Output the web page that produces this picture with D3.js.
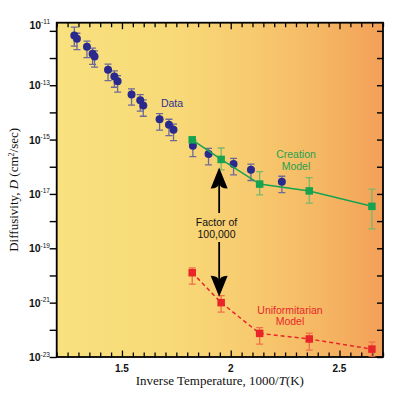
<!DOCTYPE html>
<html><head><meta charset="utf-8">
<script src="https://cdn.jsdelivr.net/npm/d3@7"></script>
<style>body{margin:0;background:#fff} svg{display:block}</style>
</head><body>
<script>
// ---- data ----
const dataX = [1.281,1.293,1.339,1.365,1.374,1.436,1.465,1.480,1.544,1.584,1.598,1.673,1.716,1.737,1.826,1.898,2.013,2.093,2.235];
const dataD = [6.8e-12,5.1e-12,2.6e-12,1.45e-12,1.15e-12,3.7e-13,2.1e-13,1.4e-13,4.6e-14,2.8e-14,1.8e-14,5.6e-15,3.5e-15,2.3e-15,5.9e-16,2.95e-16,1.26e-16,7.8e-17,2.8e-17];
const dataHiFactor = [2.0,1.6,1.6,1.6,1.6,1.6,1.6,1.6,1.6,1.6,1.6,1.6,1.6,1.6,1.6,1.6,1.6,1.6,1.6];
const dataLoFactor = [0.4,0.4,0.4,0.4,0.4,0.4,0.4,0.4,0.4,0.4,0.4,0.4,0.4,0.4,0.4,0.4,0.4,0.4,0.4];

const creationX = [1.823,1.956,2.133,2.361,2.649];
const creationD = [9.8e-16,1.86e-16,2.3e-17,1.29e-17,3.5e-18];
const creationHi = [null,4.9e-16,6.6e-17,4.0e-17,1.5e-17];
const creationLo = [null,7.7e-17,9.2e-18,4.6e-18,5.2e-19];

const uniformX = [1.823,1.956,2.133,2.361,2.649];
const uniformD = [1.26e-20,1.0e-21,7.4e-23,4.6e-23,1.95e-23];
const uniformHi = [1.9e-20,1.8e-21,1.2e-22,7.5e-23,3.5e-23];
const uniformLo = [4.8e-21,4.5e-22,3.0e-23,1.8e-23,1.0e-23];

const xMajorTicks = [1.5,2,2.5];
const xTickLabels = ["1.5","2","2.5"];
const yExponents = [-11,-12,-13,-14,-15,-16,-17,-18,-19,-20,-21,-22,-23];
const yLabelExponents = [-11,-13,-15,-17,-19,-21,-23];

// ---- layout ----
const W = 400, H = 395;
const L = 56.7, R = 383, T = 22.7, B = 357;
const svg = d3.select("body").append("svg").attr("width", W).attr("height", H);

const x = d3.scaleLinear().domain([1.2, 2.7]).range([L, R]);
const y = d3.scaleLog().domain([1e-23, Math.pow(10, -10.7)]).range([B, T]);

const defs = svg.append("defs");
const grad = defs.append("linearGradient").attr("id", "bg").attr("x1", 0).attr("x2", 1).attr("y1", 0).attr("y2", 0);
[[0, "#f8e17e"], [0.35, "#f8da78"], [0.6, "#f7ca6f"], [0.8, "#f5b864"], [1, "#f3a058"]].forEach(s =>
  grad.append("stop").attr("offset", s[0]).attr("stop-color", s[1]));
defs.append("clipPath").attr("id", "clip").append("rect").attr("x", L).attr("y", T).attr("width", R - L).attr("height", B - T);

svg.append("rect").attr("x", L).attr("y", T).attr("width", R - L).attr("height", B - T).attr("fill", "url(#bg)");

// ---- axes ----
const xMinor = d3.range(1.2, 2.7001, 0.05);
const isMajor = v => xMajorTicks.some(m => Math.abs(m - v) < 1e-6);
const gB = svg.append("g").attr("transform", `translate(0,${B})`).call(d3.axisBottom(x).tickValues(xMinor).tickSize(-4.5).tickFormat(""));
const gT = svg.append("g").attr("transform", `translate(0,${T})`).call(d3.axisTop(x).tickValues(xMinor).tickSize(-4.5).tickFormat(""));
[gB, gT].forEach(g => {
  g.select(".domain").remove();
  g.selectAll(".tick line").attr("stroke", "#000").attr("stroke-width", 1.3)
    .attr("y2", d => (g === gB ? -1 : 1) * (isMajor(d) ? 6.5 : 4.5));
});
svg.append("g").selectAll("text").data(xMajorTicks).join("text")
  .attr("x", d => x(d)).attr("y", B + 15).attr("text-anchor", "middle")
  .attr("font-family", "Liberation Sans, Arial, sans-serif").attr("font-weight", "bold").attr("font-size", 10)
  .attr("fill", "#111").text((d, i) => xTickLabels[i]);

const yTicks = yExponents.map(e => Math.pow(10, e));
const gL = svg.append("g").attr("transform", `translate(${L},0)`).call(d3.axisLeft(y).tickValues(yTicks).tickSize(7).tickFormat(""));
const gR = svg.append("g").attr("transform", `translate(${R},0)`).call(d3.axisRight(y).tickValues(yTicks).tickSize(-6).tickFormat(""));
[gL, gR].forEach(g => {
  g.select(".domain").remove();
  g.selectAll(".tick line").attr("stroke", "#000").attr("stroke-width", 1.4);
});
const yl = svg.append("g").selectAll("text").data(yLabelExponents).join("text")
  .attr("x", 50).attr("y", d => (d === -11 ? y.range()[1] + 2 : y(Math.pow(10, d))) + 4)
  .attr("text-anchor", "end")
  .attr("font-family", "Liberation Sans, Arial, sans-serif").attr("fill", "#111");
yl.append("tspan").attr("font-weight", "bold").attr("font-size", 10.5).text("10");
yl.append("tspan").attr("dy", -4.5).attr("font-size", 6.5).text(d => "-" + Math.abs(d));

svg.append("rect").attr("x", L).attr("y", T).attr("width", R - L).attr("height", B - T)
  .attr("fill", "none").attr("stroke", "#000").attr("stroke-width", 1.8);

// ---- titles ----
const xt = svg.append("text").attr("x", (L + R) / 2).attr("y", 385).attr("text-anchor", "middle")
  .attr("font-family", "Liberation Serif, Times New Roman, serif").attr("font-size", 13).attr("fill", "#111");
xt.append("tspan").text("Inverse Temperature, 1000/");
xt.append("tspan").attr("font-style", "italic").text("T");
xt.append("tspan").text("(K)");

const ytt = svg.append("text").attr("transform", `translate(18,${(T + B) / 2}) rotate(-90)`).attr("text-anchor", "middle")
  .attr("font-family", "Liberation Serif, Times New Roman, serif").attr("font-size", 13).attr("fill", "#111");
ytt.append("tspan").text("Diffusivity, ");
ytt.append("tspan").attr("font-style", "italic").text("D");
ytt.append("tspan").text(" (cm");
ytt.append("tspan").attr("dy", -4).attr("font-size", 8).text("2");
ytt.append("tspan").attr("dy", 4).text("/sec)");

// ---- marks ----
const plot = svg.append("g").attr("clip-path", "url(#clip)");
function errBar(g, cx, hi, lo, color) {
  const px = x(cx), cap = 3.5;
  g.append("line").attr("x1", px).attr("x2", px).attr("y1", y(hi)).attr("y2", y(lo)).attr("stroke", color).attr("stroke-width", 1.3);
  g.append("line").attr("x1", px - cap).attr("x2", px + cap).attr("y1", y(hi)).attr("y2", y(hi)).attr("stroke", color).attr("stroke-width", 1.3);
  g.append("line").attr("x1", px - cap).attr("x2", px + cap).attr("y1", y(lo)).attr("y2", y(lo)).attr("stroke", color).attr("stroke-width", 1.3);
}

const gData = plot.append("g");
dataX.forEach((v, i) => errBar(gData, v, dataD[i] * dataHiFactor[i], dataD[i] * dataLoFactor[i], "#6d6a98"));

const gC = plot.append("g");
creationX.forEach((v, i) => { if (creationHi[i] !== null) errBar(gC, v, creationHi[i], creationLo[i], "#78b86a"); });
gC.append("path").datum(creationX.map((v, i) => [v, creationD[i]]))
  .attr("d", d3.line().x(d => x(d[0])).y(d => y(d[1])))
  .attr("fill", "none").attr("stroke", "#17a34f").attr("stroke-width", 1.5);

const gU = plot.append("g");
uniformX.forEach((v, i) => errBar(gU, v, uniformHi[i], uniformLo[i], "#f07048"));
gU.append("path").datum(uniformX.map((v, i) => [v, uniformD[i]]))
  .attr("d", d3.line().x(d => x(d[0])).y(d => y(d[1])))
  .attr("fill", "none").attr("stroke", "#e8262a").attr("stroke-width", 1.5).attr("stroke-dasharray", "4,3");

const sq = 7.5;
gC.selectAll("rect").data(creationX).join("rect")
  .attr("x", d => x(d) - sq / 2).attr("y", (d, i) => y(creationD[i]) - sq / 2)
  .attr("width", sq).attr("height", sq).attr("fill", "#17a34f");
gData.selectAll("circle").data(dataX).join("circle")
  .attr("cx", d => x(d)).attr("cy", (d, i) => y(dataD[i])).attr("r", 4).attr("fill", "#2a2a8e");
gU.selectAll("rect").data(uniformX).join("rect")
  .attr("x", d => x(d) - sq / 2).attr("y", (d, i) => y(uniformD[i]) - sq / 2)
  .attr("width", sq).attr("height", sq).attr("fill", "#e8262a");

// ---- annotations ----
const sans = "Liberation Sans, Arial, sans-serif";
function label(tx, ty, txt, color) {
  svg.append("text").attr("x", tx).attr("y", ty).attr("text-anchor", "middle").attr("font-family", sans)
    .attr("font-size", 10.5).attr("fill", color).text(txt);
}
label(172, 107, "Data", "#2e3192");
label(296, 158, "Creation", "#1fa24e");
label(296, 169.5, "Model", "#1fa24e");
label(290, 313.5, "Uniformitarian", "#e8262a");
label(290, 325, "Model", "#e8262a");
label(216.5, 225.5, "Factor of", "#111");
label(216.5, 237.5, "100,000", "#111");

const ax = x(creationX[1]) - 2;
const upTip = y(creationD[1]) + 8, downTip = y(uniformD[1]) - 6;
function arrow(tipY, dir) {
  const len = 21, hw = 8.5, notch = 6;
  const by = tipY - dir * len;
  return `M${ax},${tipY} L${ax - hw},${by} Q${ax},${by} ${ax},${by + dir * notch} Q${ax},${by} ${ax + hw},${by} Z`;
}
svg.append("line").attr("x1", ax).attr("x2", ax).attr("y1", 213).attr("y2", upTip + 10).attr("stroke", "#000").attr("stroke-width", 1.8);
svg.append("path").attr("d", arrow(upTip, -1)).attr("fill", "#000");
svg.append("line").attr("x1", ax).attr("x2", ax).attr("y1", 242).attr("y2", downTip - 10).attr("stroke", "#000").attr("stroke-width", 1.8);
svg.append("path").attr("d", arrow(downTip, 1)).attr("fill", "#000");
</script>
</body></html>
